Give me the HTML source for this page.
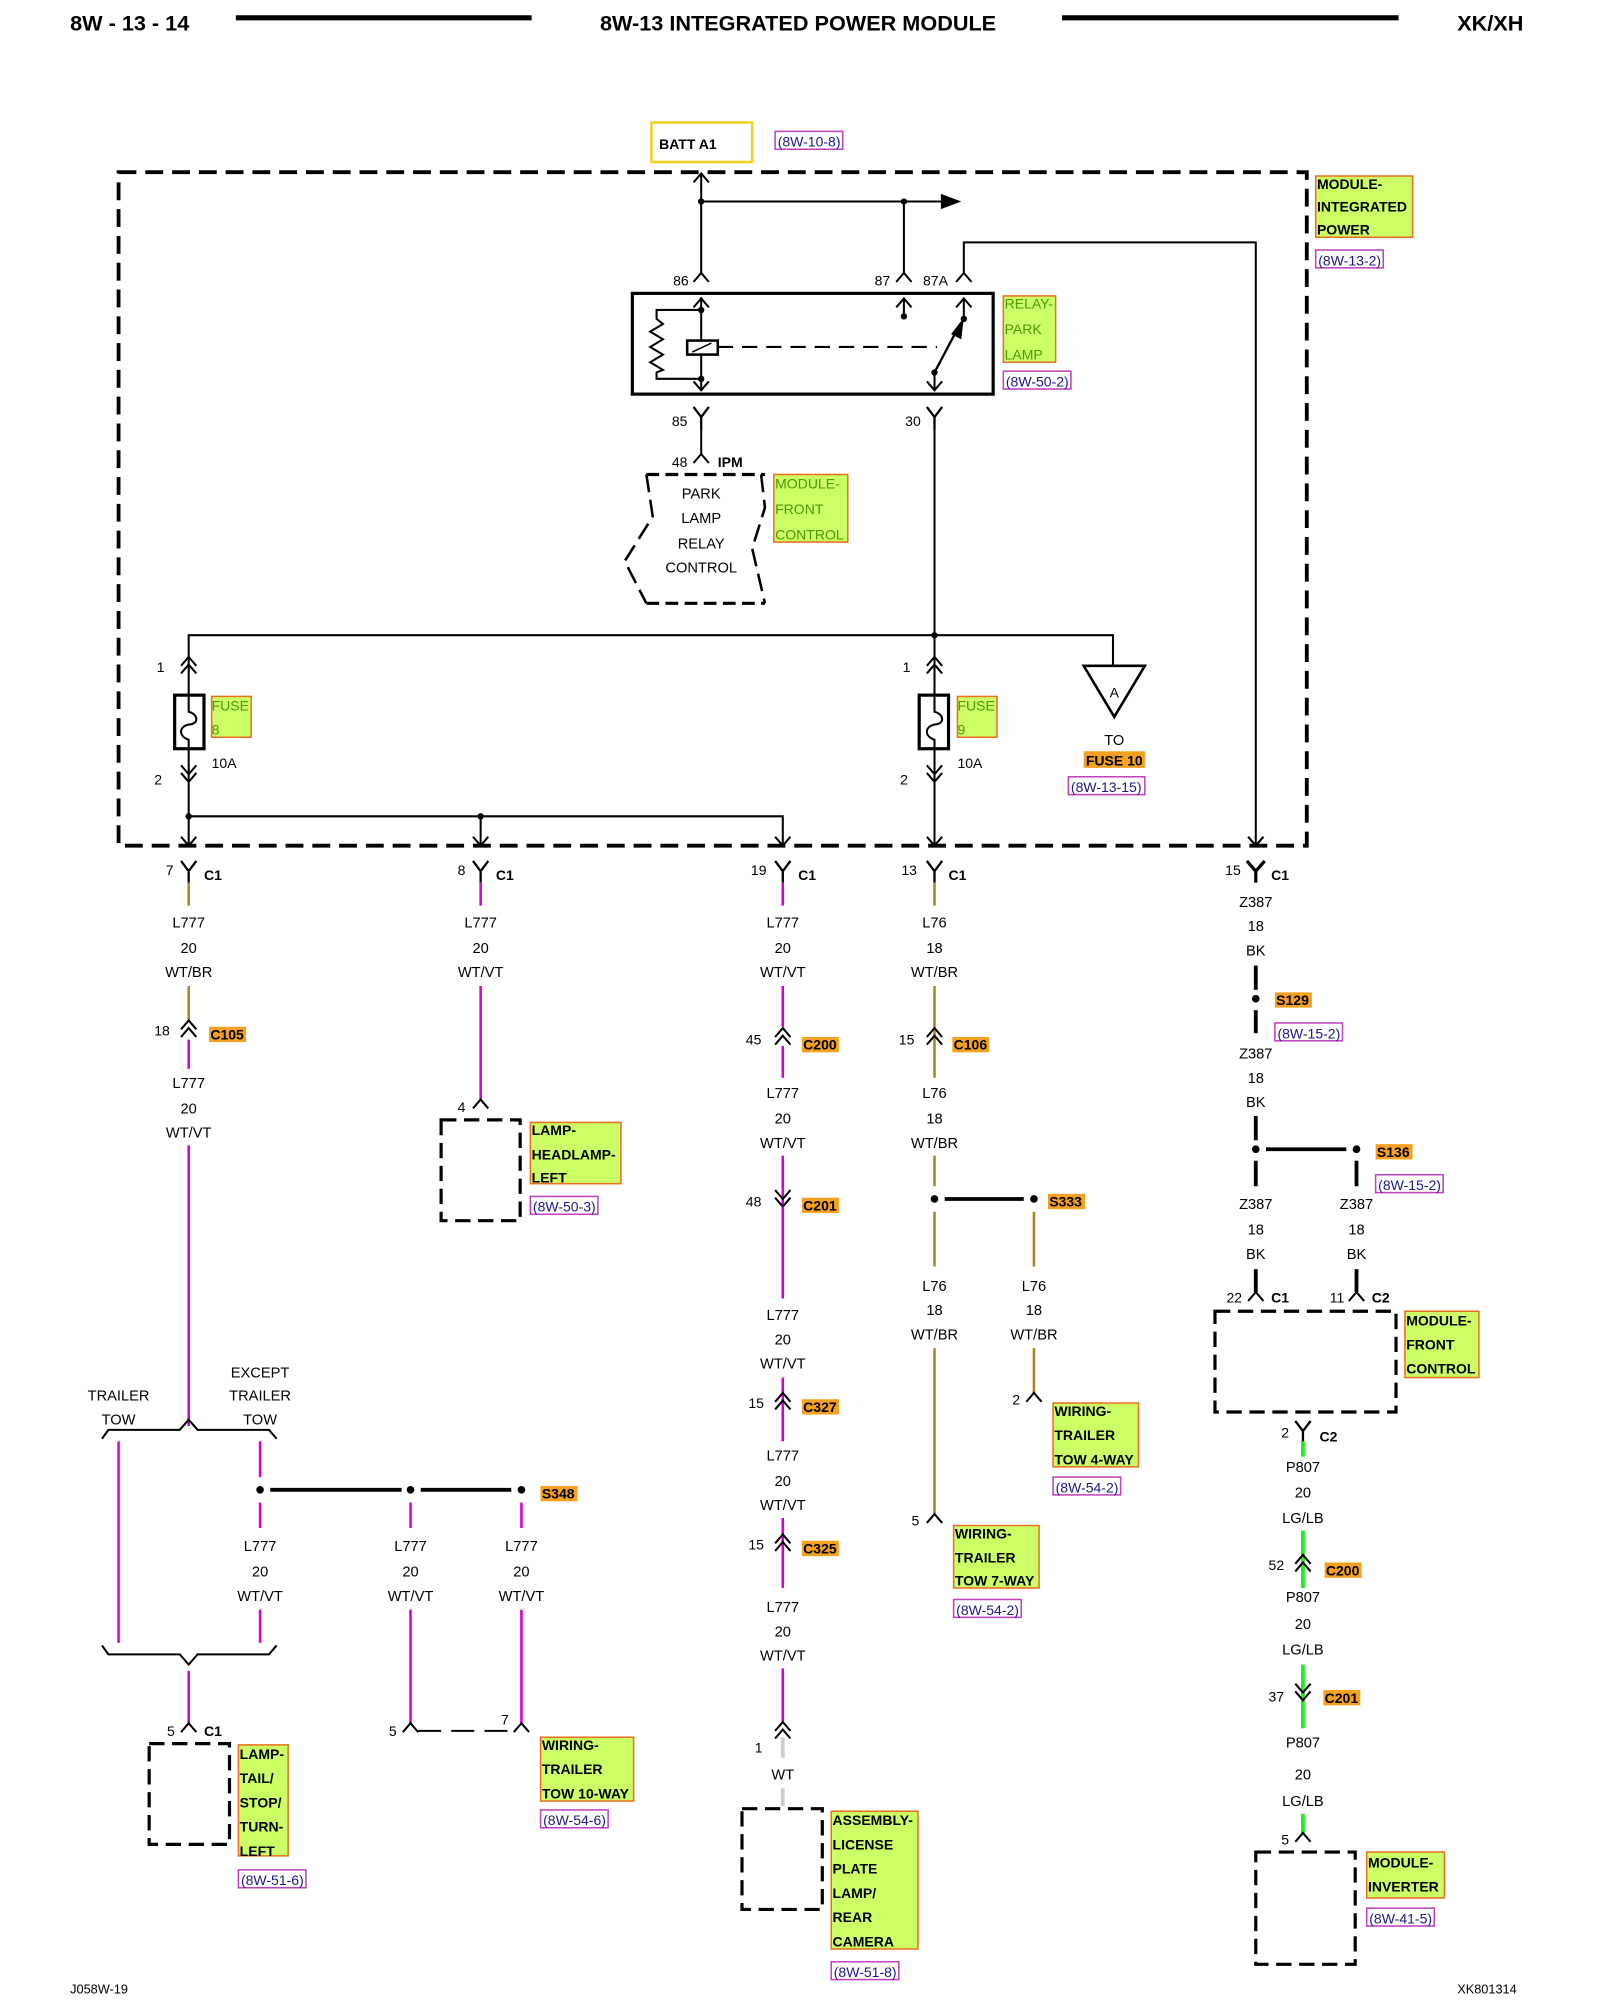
<!DOCTYPE html>
<html><head><meta charset="utf-8"><style>
html,body{margin:0;padding:0;background:#fff}
svg{display:block}
text{font-family:"Liberation Sans",sans-serif;fill:#000}
.w{font-size:11.5px;text-anchor:middle}
.n{font-size:11px}
.b{font-weight:bold}
.lb{font-size:11px;font-weight:bold}
.lg{font-size:11px;fill:#4a9a00}
.rf{font-size:11px;fill:#1a1a8a}
.mg{stroke:#d400d4;stroke-width:2;fill:none}
.tn{stroke:#a8862a;stroke-width:2;fill:none}
.gr{stroke:#22ee22;stroke-width:3;fill:none}
.bk{stroke:#000;stroke-width:3;fill:none}
.l{stroke:#000;stroke-width:1.6;fill:none}
.lab{fill:#ccff66;stroke:#e87020;stroke-width:1.2}
.ref{fill:#fff;stroke:#c040c0;stroke-width:1.2}
.ds{stroke:#000;stroke-width:2.5;fill:none;stroke-dasharray:12 6}
</style></head><body>
<svg width="1600" height="2000" viewBox="0 0 1255 1568" preserveAspectRatio="none" xmlns="http://www.w3.org/2000/svg">
<defs>
<path id="up" d="M-6,7 L0,0 L6,7" fill="none" stroke="#000" stroke-width="1.6"/>
<path id="dup" d="M-6,7 L0,0 L6,7 M-6,13 L0,6 L6,13" fill="none" stroke="#000" stroke-width="1.6"/>
<path id="ddn" d="M-6,-7 L0,0 L6,-7 M-6,-13 L0,-6 L6,-13" fill="none" stroke="#000" stroke-width="1.6"/>
<path id="dn" d="M-6,-7 L0,0 L6,-7" fill="none" stroke="#000" stroke-width="1.6"/>
<path id="Y" d="M-6,-8 L0,0 L6,-8 M0,0 V9" fill="none" stroke="#000" stroke-width="1.8"/>
</defs>

<!-- header -->
<text x="55" y="24" style="font-size:17px" class="b">8W - 13 - 14</text>
<line x1="185" y1="14" x2="417" y2="14" stroke="#000" stroke-width="4"/>
<text x="626" y="24" style="font-size:17px;text-anchor:middle" class="b">8W-13 INTEGRATED POWER MODULE</text>
<line x1="833" y1="14" x2="1097" y2="14" stroke="#000" stroke-width="4"/>
<text x="1143" y="24" style="font-size:17px" class="b">XK/XH</text>

<!-- BATT -->
<rect x="511" y="96" width="79" height="31" fill="#fff" stroke="#f0d020" stroke-width="2"/>
<text x="517" y="117" class="lb">BATT A1</text>
<rect x="608" y="103" width="53" height="14" class="ref"/><text x="610" y="115" class="rf">(8W-10-8)</text>

<!-- module dashed -->
<rect x="93" y="135" width="932" height="528" fill="none" stroke="#000" stroke-width="3" stroke-dasharray="14 7"/>
<rect x="1032" y="138" width="76" height="48" class="lab"/>
<text x="1033" y="148" class="lb">MODULE-</text><text x="1033" y="166" class="lb">INTEGRATED</text><text x="1033" y="184" class="lb">POWER</text>
<rect x="1032" y="196" width="53" height="14" class="ref"/><text x="1034" y="208" class="rf">(8W-13-2)</text>

<!-- top wires -->
<line x1="550" y1="136" x2="550" y2="215" class="l"/>
<use href="#up" x="550" y="136"/>
<circle cx="550" cy="158" r="2.5"/>
<line x1="550" y1="158" x2="740" y2="158" class="l"/>
<polygon points="738,152 754,158 738,164"/>
<circle cx="709" cy="158" r="2.5"/>
<line x1="709" y1="158" x2="709" y2="215" class="l"/>
<polyline points="756,215 756,190 985,190 985,662" class="l"/>
<use href="#up" x="985" y="663" transform="rotate(180 985 663)"/>
<use href="#up" x="550" y="214"/><use href="#up" x="709" y="214"/><use href="#up" x="756" y="214"/>
<text x="528" y="224" class="n">86</text><text x="686" y="224" class="n">87</text><text x="724" y="224" class="n">87A</text>

<!-- relay -->
<rect x="496" y="230" width="283" height="79" fill="none" stroke="#000" stroke-width="2.5"/>
<line x1="550" y1="233" x2="550" y2="306" class="l"/>
<use href="#up" x="550" y="234"/><use href="#dn" x="550" y="306"/>
<circle cx="550" cy="243" r="2.5"/><circle cx="550" cy="297" r="2.5"/>
<polyline points="550,243 515,243 515,250 520,254 510,260 520,266 510,272 520,278 510,284 520,290 515,292 515,297 550,297" class="l"/>
<rect x="539" y="267" width="24" height="11" fill="#fff" stroke="#000" stroke-width="2"/>
<line x1="543" y1="276" x2="558" y2="269" stroke="#000" stroke-width="1.2"/>
<line x1="563" y1="272" x2="735" y2="272" stroke="#000" stroke-width="1.6" stroke-dasharray="12 7"/>
<line x1="709" y1="234" x2="709" y2="248" class="l"/><use href="#up" x="709" y="234"/><circle cx="709" cy="248" r="2.5"/>
<line x1="756" y1="234" x2="756" y2="250" class="l"/><use href="#up" x="756" y="234"/><circle cx="756" cy="250" r="2.5"/>
<line x1="733" y1="292" x2="752" y2="256" stroke="#000" stroke-width="1.8"/>
<polygon points="756,249 754,266 746,262"/>
<circle cx="733" cy="292" r="2.5"/>
<line x1="733" y1="292" x2="733" y2="306" class="l"/><use href="#dn" x="733" y="306"/>
<rect x="787" y="232" width="41" height="52" class="lab"/>
<text x="788" y="242" class="lg">RELAY-</text><text x="788" y="262" class="lg">PARK</text><text x="788" y="282" class="lg">LAMP</text>
<rect x="787" y="291" width="53" height="14" class="ref"/><text x="789" y="303" class="rf">(8W-50-2)</text>

<!-- 85 to IPM -->
<use href="#Y" x="550" y="327"/>
<text x="527" y="334" class="n">85</text>
<line x1="550" y1="335" x2="550" y2="356" class="l"/>
<use href="#up" x="550" y="356"/>
<text x="527" y="366" class="n">48</text>
<text x="563" y="366" class="lb">IPM</text>
<polyline points="507,372 600,372" stroke="#000" stroke-width="2.5" stroke-dasharray="10 5" fill="none"/>
<polyline points="507,473 600,473" stroke="#000" stroke-width="2.5" stroke-dasharray="10 5" fill="none"/>
<polyline points="507,372 512,405 490,440 507,473" stroke="#000" stroke-width="2" stroke-dasharray="14 6" fill="none"/>
<polyline points="597,372 600,398 590,430 600,473" stroke="#000" stroke-width="2" stroke-dasharray="14 6" fill="none"/>
<text x="550" y="391" class="w">PARK</text><text x="550" y="410" class="w">LAMP</text><text x="550" y="430" class="w">RELAY</text><text x="550" y="449" class="w">CONTROL</text>
<rect x="607" y="372" width="58" height="53" class="lab"/>
<text x="608" y="383" class="lg">MODULE-</text><text x="608" y="403" class="lg">FRONT</text><text x="608" y="423" class="lg">CONTROL</text>

<!-- 30 -->
<use href="#Y" x="733" y="327"/>
<text x="710" y="334" class="n">30</text>
<line x1="733" y1="335" x2="733" y2="662" class="l"/>
<circle cx="733" cy="498" r="2.5"/>
<polyline points="148,515 148,498 873,498 873,522" class="l"/>
<polygon points="850,522 898,522 874,562" fill="#fff" stroke="#000" stroke-width="2"/>
<text x="874" y="547" class="n" style="text-anchor:middle">A</text>
<text x="874" y="584" class="w">TO</text>
<rect x="850" y="589" width="48" height="13" fill="#f4a020"/>
<text x="874" y="600" class="lb" style="text-anchor:middle">FUSE 10</text>
<rect x="838" y="609" width="60" height="14" class="ref"/><text x="840" y="621" class="rf">(8W-13-15)</text>

<!-- fuse 8 -->
<use href="#dup" x="148" y="515"/>
<line x1="148" y1="515" x2="148" y2="612" class="l"/>
<rect x="137" y="545" width="23" height="42" fill="#fff" stroke="#000" stroke-width="2.5"/>
<path d="M148,545 V558 C156,560 156,568 148,568 C140,570 140,577 148,580 V587" class="l"/>
<use href="#ddn" x="148" y="613"/>
<text x="123" y="527" class="n">1</text><text x="121" y="615" class="n">2</text><text x="166" y="602" class="n">10A</text>
<rect x="166" y="546" width="31" height="32" class="lab"/><text x="166" y="557" class="lg">FUSE</text><text x="166" y="576" class="lg">8</text>
<!-- fuse 9 -->
<use href="#dup" x="733" y="515"/>
<rect x="721" y="545" width="23" height="42" fill="#fff" stroke="#000" stroke-width="2.5"/>
<path d="M733,545 V558 C741,560 741,568 733,568 C725,570 725,577 733,580 V587" class="l"/>
<use href="#ddn" x="733" y="613"/>
<text x="708" y="527" class="n">1</text><text x="706" y="615" class="n">2</text><text x="751" y="602" class="n">10A</text>
<rect x="751" y="546" width="31" height="32" class="lab"/><text x="751" y="557" class="lg">FUSE</text><text x="751" y="576" class="lg">9</text>

<!-- bottom bus -->
<polyline points="148,613 148,662" class="l"/>
<circle cx="148" cy="640" r="2.5"/><circle cx="377" cy="640" r="2.5"/>
<polyline points="148,640 614,640 614,662" class="l"/>
<line x1="377" y1="640" x2="377" y2="662" class="l"/>
<use href="#dn" x="148" y="663"/><use href="#dn" x="377" y="663"/><use href="#dn" x="614" y="663"/><use href="#dn" x="733" y="663"/><use href="#dn" x="985" y="663"/>

<!-- C1 row -->
<use href="#Y" x="148" y="683"/><use href="#Y" x="377" y="683"/><use href="#Y" x="614" y="683"/><use href="#Y" x="733" y="683"/>
<path d="M978,675 L985,683 L992,675 M985,683 V692" stroke="#000" stroke-width="2.5" fill="none"/>
<text x="130" y="686" class="n">7</text><text x="160" y="690" class="lb">C1</text>
<text x="359" y="686" class="n">8</text><text x="389" y="690" class="lb">C1</text>
<text x="589" y="686" class="n">19</text><text x="626" y="690" class="lb">C1</text>
<text x="707" y="686" class="n">13</text><text x="744" y="690" class="lb">C1</text>
<text x="961" y="686" class="n">15</text><text x="997" y="690" class="lb">C1</text>

<!-- col1 -->
<line x1="148" y1="692" x2="148" y2="710" class="tn"/>
<text x="148" y="727" class="w">L777</text><text x="148" y="747" class="w">20</text><text x="148" y="766" class="w">WT/BR</text>
<line x1="148" y1="773" x2="148" y2="800" class="tn"/>
<use href="#dup" x="148" y="800"/>
<text x="121" y="812" class="n">18</text>
<rect x="164" y="805" width="29" height="12" fill="#f4a020"/><text x="165" y="815" class="lb">C105</text>
<line x1="148" y1="815" x2="148" y2="838" class="mg"/>
<text x="148" y="853" class="w">L777</text><text x="148" y="873" class="w">20</text><text x="148" y="892" class="w">WT/VT</text>
<line x1="148" y1="898" x2="148" y2="1118" class="mg"/>
<text x="93" y="1098" class="w">TRAILER</text><text x="93" y="1117" class="w">TOW</text>
<text x="204" y="1080" class="w">EXCEPT</text><text x="204" y="1098" class="w">TRAILER</text><text x="204" y="1117" class="w">TOW</text>
<path d="M80,1128 L85,1121 H141 L148,1113 L155,1121 H211 L217,1128" class="l"/>
<line x1="93" y1="1130" x2="93" y2="1288" class="mg"/>
<line x1="204" y1="1130" x2="204" y2="1158" class="mg"/>
<circle cx="204" cy="1168" r="3"/>
<line x1="212" y1="1168" x2="315" y2="1168" class="bk"/>
<circle cx="322" cy="1168" r="3"/>
<line x1="330" y1="1168" x2="401" y2="1168" class="bk"/>
<circle cx="409" cy="1168" r="3"/>
<rect x="424" y="1165" width="29" height="12" fill="#f4a020"/><text x="425" y="1175" class="lb">S348</text>
<line x1="204" y1="1178" x2="204" y2="1198" class="mg"/><line x1="322" y1="1178" x2="322" y2="1198" class="mg"/><line x1="409" y1="1178" x2="409" y2="1198" class="mg"/>
<text x="204" y="1216" class="w">L777</text><text x="204" y="1236" class="w">20</text><text x="204" y="1255" class="w">WT/VT</text>
<text x="322" y="1216" class="w">L777</text><text x="322" y="1236" class="w">20</text><text x="322" y="1255" class="w">WT/VT</text>
<text x="409" y="1216" class="w">L777</text><text x="409" y="1236" class="w">20</text><text x="409" y="1255" class="w">WT/VT</text>
<line x1="204" y1="1262" x2="204" y2="1288" class="mg"/>
<line x1="322" y1="1262" x2="322" y2="1352" class="mg"/><line x1="409" y1="1262" x2="409" y2="1352" class="mg"/>
<path d="M80,1290 L85,1297 H141 L148,1305 L155,1297 H211 L217,1290" class="l"/>
<line x1="148" y1="1310" x2="148" y2="1352" class="mg"/>
<use href="#up" x="148" y="1351"/>
<text x="131" y="1361" class="n">5</text><text x="160" y="1361" class="lb">C1</text>
<rect x="117" y="1367" width="63" height="79" class="ds"/>
<rect x="187" y="1368" width="39" height="87" class="lab"/>
<text x="188" y="1379" class="lb">LAMP-</text><text x="188" y="1398" class="lb">TAIL/</text><text x="188" y="1417" class="lb">STOP/</text><text x="188" y="1436" class="lb">TURN-</text><text x="188" y="1455" class="lb">LEFT</text>
<rect x="187" y="1466" width="53" height="14" class="ref"/><text x="189" y="1478" class="rf">(8W-51-6)</text>
<use href="#up" x="322" y="1351"/><use href="#up" x="409" y="1351"/>
<text x="305" y="1361" class="n">5</text><text x="393" y="1352" class="n">7</text>
<line x1="328" y1="1357" x2="403" y2="1357" stroke="#000" stroke-width="1.6" stroke-dasharray="18 8"/>
<rect x="424" y="1362" width="73" height="50" class="lab"/>
<text x="425" y="1372" class="lb">WIRING-</text><text x="425" y="1391" class="lb">TRAILER</text><text x="425" y="1410" class="lb">TOW 10-WAY</text>
<rect x="424" y="1419" width="53" height="14" class="ref"/><text x="426" y="1431" class="rf">(8W-54-6)</text>

<!-- col2 -->
<line x1="377" y1="692" x2="377" y2="710" class="mg"/>
<text x="377" y="727" class="w">L777</text><text x="377" y="747" class="w">20</text><text x="377" y="766" class="w">WT/VT</text>
<line x1="377" y1="773" x2="377" y2="862" class="mg"/>
<use href="#up" x="377" y="862"/><text x="359" y="872" class="n">4</text>
<rect x="346" y="878" width="62" height="79" class="ds"/>
<rect x="416" y="880" width="71" height="48" class="lab"/>
<text x="417" y="890" class="lb">LAMP-</text><text x="417" y="909" class="lb">HEADLAMP-</text><text x="417" y="927" class="lb">LEFT</text>
<rect x="416" y="938" width="53" height="14" class="ref"/><text x="418" y="950" class="rf">(8W-50-3)</text>

<!-- col3 -->
<line x1="614" y1="692" x2="614" y2="710" class="mg"/>
<text x="614" y="727" class="w">L777</text><text x="614" y="747" class="w">20</text><text x="614" y="766" class="w">WT/VT</text>
<line x1="614" y1="773" x2="614" y2="805" class="mg"/>
<use href="#dup" x="614" y="806"/><text x="585" y="819" class="n">45</text>
<rect x="629" y="813" width="29" height="12" fill="#f4a020"/><text x="630" y="823" class="lb">C200</text>
<line x1="614" y1="820" x2="614" y2="845" class="mg"/>
<text x="614" y="861" class="w">L777</text><text x="614" y="881" class="w">20</text><text x="614" y="900" class="w">WT/VT</text>
<line x1="614" y1="906" x2="614" y2="946" class="mg"/>
<use href="#ddn" x="614" y="946"/><text x="585" y="946" class="n">48</text>
<rect x="629" y="939" width="29" height="12" fill="#f4a020"/><text x="630" y="949" class="lb">C201</text>
<line x1="614" y1="946" x2="614" y2="1018" class="mg"/>
<text x="614" y="1035" class="w">L777</text><text x="614" y="1054" class="w">20</text><text x="614" y="1073" class="w">WT/VT</text>
<line x1="614" y1="1080" x2="614" y2="1130" class="mg"/>
<use href="#dup" x="614" y="1092"/><text x="587" y="1104" class="n">15</text>
<rect x="629" y="1097" width="29" height="12" fill="#f4a020"/><text x="630" y="1107" class="lb">C327</text>
<text x="614" y="1145" class="w">L777</text><text x="614" y="1165" class="w">20</text><text x="614" y="1184" class="w">WT/VT</text>
<line x1="614" y1="1190" x2="614" y2="1245" class="mg"/>
<use href="#dup" x="614" y="1203"/><text x="587" y="1215" class="n">15</text>
<rect x="629" y="1208" width="29" height="12" fill="#f4a020"/><text x="630" y="1218" class="lb">C325</text>
<text x="614" y="1264" class="w">L777</text><text x="614" y="1283" class="w">20</text><text x="614" y="1302" class="w">WT/VT</text>
<line x1="614" y1="1308" x2="614" y2="1350" class="mg"/>
<use href="#dup" x="614" y="1350"/><text x="592" y="1374" class="n">1</text>
<line x1="614" y1="1362" x2="614" y2="1378" stroke="#ccc" stroke-width="3"/>
<text x="614" y="1395" class="w">WT</text>
<line x1="614" y1="1402" x2="614" y2="1416" stroke="#ccc" stroke-width="3"/>
<rect x="582" y="1418" width="63" height="79" class="ds"/>
<rect x="652" y="1420" width="68" height="108" class="lab"/>
<text x="653" y="1431" class="lb">ASSEMBLY-</text><text x="653" y="1450" class="lb">LICENSE</text><text x="653" y="1469" class="lb">PLATE</text><text x="653" y="1488" class="lb">LAMP/</text><text x="653" y="1507" class="lb">REAR</text><text x="653" y="1526" class="lb">CAMERA</text>
<rect x="652" y="1538" width="53" height="14" class="ref"/><text x="654" y="1550" class="rf">(8W-51-8)</text>

<!-- col4 -->
<line x1="733" y1="692" x2="733" y2="710" class="tn"/>
<text x="733" y="727" class="w">L76</text><text x="733" y="747" class="w">18</text><text x="733" y="766" class="w">WT/BR</text>
<line x1="733" y1="773" x2="733" y2="845" class="tn"/>
<use href="#dup" x="733" y="806"/><text x="705" y="819" class="n">15</text>
<rect x="747" y="813" width="29" height="12" fill="#f4a020"/><text x="748" y="823" class="lb">C106</text>
<text x="733" y="861" class="w">L76</text><text x="733" y="881" class="w">18</text><text x="733" y="900" class="w">WT/BR</text>
<line x1="733" y1="906" x2="733" y2="930" class="tn"/>
<circle cx="733" cy="940" r="3"/>
<line x1="741" y1="940" x2="803" y2="940" class="bk"/>
<circle cx="811" cy="940" r="3"/>
<rect x="822" y="936" width="29" height="12" fill="#f4a020"/><text x="823" y="946" class="lb">S333</text>
<line x1="733" y1="950" x2="733" y2="993" class="tn"/><line x1="811" y1="950" x2="811" y2="993" class="tn"/>
<text x="733" y="1012" class="w">L76</text><text x="733" y="1031" class="w">18</text><text x="733" y="1050" class="w">WT/BR</text>
<text x="811" y="1012" class="w">L76</text><text x="811" y="1031" class="w">18</text><text x="811" y="1050" class="w">WT/BR</text>
<line x1="733" y1="1057" x2="733" y2="1187" class="tn"/><use href="#up" x="733" y="1187"/><text x="715" y="1196" class="n">5</text>
<line x1="811" y1="1057" x2="811" y2="1092" class="tn"/><use href="#up" x="811" y="1092"/><text x="794" y="1101" class="n">2</text>
<rect x="748" y="1196" width="67" height="49" class="lab"/>
<text x="749" y="1206" class="lb">WIRING-</text><text x="749" y="1225" class="lb">TRAILER</text><text x="749" y="1243" class="lb">TOW 7-WAY</text>
<rect x="748" y="1254" width="53" height="14" class="ref"/><text x="750" y="1266" class="rf">(8W-54-2)</text>
<rect x="826" y="1100" width="67" height="50" class="lab"/>
<text x="827" y="1110" class="lb">WIRING-</text><text x="827" y="1129" class="lb">TRAILER</text><text x="827" y="1148" class="lb">TOW 4-WAY</text>
<rect x="826" y="1158" width="53" height="14" class="ref"/><text x="828" y="1170" class="rf">(8W-54-2)</text>

<!-- col5 -->
<text x="985" y="711" class="w">Z387</text><text x="985" y="730" class="w">18</text><text x="985" y="749" class="w">BK</text>
<line x1="985" y1="757" x2="985" y2="776" class="bk"/>
<circle cx="985" cy="783" r="3"/>
<rect x="1000" y="778" width="29" height="12" fill="#f4a020"/><text x="1001" y="788" class="lb">S129</text>
<rect x="1000" y="802" width="53" height="14" class="ref"/><text x="1002" y="814" class="rf">(8W-15-2)</text>
<line x1="985" y1="792" x2="985" y2="810" class="bk"/>
<text x="985" y="830" class="w">Z387</text><text x="985" y="849" class="w">18</text><text x="985" y="868" class="w">BK</text>
<line x1="985" y1="875" x2="985" y2="894" class="bk"/>
<circle cx="985" cy="901" r="3"/>
<line x1="993" y1="901" x2="1056" y2="901" class="bk"/>
<circle cx="1064" cy="901" r="3"/>
<rect x="1079" y="897" width="29" height="12" fill="#f4a020"/><text x="1080" y="907" class="lb">S136</text>
<rect x="1079" y="921" width="53" height="14" class="ref"/><text x="1081" y="933" class="rf">(8W-15-2)</text>
<line x1="985" y1="910" x2="985" y2="930" class="bk"/><line x1="1064" y1="910" x2="1064" y2="930" class="bk"/>
<text x="985" y="948" class="w">Z387</text><text x="985" y="968" class="w">18</text><text x="985" y="987" class="w">BK</text>
<text x="1064" y="948" class="w">Z387</text><text x="1064" y="968" class="w">18</text><text x="1064" y="987" class="w">BK</text>
<line x1="985" y1="995" x2="985" y2="1013" class="bk"/><line x1="1064" y1="995" x2="1064" y2="1013" class="bk"/>
<use href="#up" x="985" y="1013"/><use href="#up" x="1064" y="1013"/>
<text x="962" y="1021" class="n">22</text><text x="997" y="1021" class="lb">C1</text>
<text x="1043" y="1021" class="n">11</text><text x="1076" y="1021" class="lb">C2</text>
<rect x="953" y="1028" width="142" height="79" class="ds"/>
<rect x="1102" y="1028" width="58" height="52" class="lab"/>
<text x="1103" y="1039" class="lb">MODULE-</text><text x="1103" y="1058" class="lb">FRONT</text><text x="1103" y="1077" class="lb">CONTROL</text>
<use href="#Y" x="1022" y="1122"/>
<text x="1005" y="1127" class="n">2</text><text x="1035" y="1130" class="lb">C2</text>
<line x1="1022" y1="1130" x2="1022" y2="1142" class="gr"/>
<text x="1022" y="1154" class="w">P807</text><text x="1022" y="1174" class="w">20</text><text x="1022" y="1194" class="w">LG/LB</text>
<line x1="1022" y1="1200" x2="1022" y2="1245" class="gr"/>
<use href="#dup" x="1022" y="1219"/><text x="995" y="1231" class="n">52</text>
<rect x="1039" y="1225" width="29" height="12" fill="#f4a020"/><text x="1040" y="1235" class="lb">C200</text>
<text x="1022" y="1256" class="w">P807</text><text x="1022" y="1277" class="w">20</text><text x="1022" y="1297" class="w">LG/LB</text>
<line x1="1022" y1="1305" x2="1022" y2="1355" class="gr"/>
<use href="#ddn" x="1022" y="1333"/><text x="995" y="1334" class="n">37</text>
<rect x="1038" y="1325" width="29" height="12" fill="#f4a020"/><text x="1039" y="1335" class="lb">C201</text>
<text x="1022" y="1370" class="w">P807</text><text x="1022" y="1395" class="w">20</text><text x="1022" y="1416" class="w">LG/LB</text>
<line x1="1022" y1="1422" x2="1022" y2="1438" class="gr"/>
<use href="#up" x="1022" y="1437"/><text x="1005" y="1446" class="n">5</text>
<rect x="985" y="1452" width="78" height="88" class="ds"/>
<rect x="1072" y="1452" width="61" height="36" class="lab"/>
<text x="1073" y="1464" class="lb">MODULE-</text><text x="1073" y="1483" class="lb">INVERTER</text>
<rect x="1072" y="1496" width="53" height="14" class="ref"/><text x="1074" y="1508" class="rf">(8W-41-5)</text>

<!-- footer -->
<text x="55" y="1563" style="font-size:10px">J058W-19</text>
<text x="1143" y="1563" style="font-size:10px">XK801314</text>
</svg>
</body></html>
